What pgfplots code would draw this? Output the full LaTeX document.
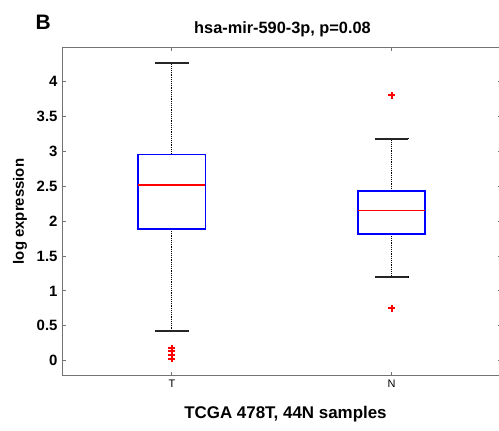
\documentclass[border=0pt]{standalone}
\usepackage{fontspec}
\setmainfont{Liberation Sans}
\usepackage{pgfplots}
\pgfplotsset{compat=1.18}
\usepgfplotslibrary{statistics}

\begin{document}
\begin{tikzpicture}
\begin{axis}[
  at={(0,0)}, anchor=south west,
  scale only axis, width=439.5bp, height=328.4bp,
  xmin=0.5, xmax=2.5, ymin=-0.215, ymax=4.49,
  boxplot/draw direction=y,
  xtick={1,2}, xticklabels={T,N},
  ytick={0,0.5,1,1.5,2,2.5,3,3.5,4},
  yticklabels={0,0.5,1,1.5,2,2.5,3,3.5,4},
  tick align=inside, major tick length=4bp,
  axis line style={black!55, line width=1pt},
  tick style={black!55, line width=0.8pt},
  yticklabel style={font=\fontsize{15}{18}\selectfont\bfseries, xshift=-1bp},
  xticklabel style={font=\fontsize{11}{13}\selectfont, yshift=-1bp},
  clip=false,
]
% T
\addplot[blue, line width=1.7pt,
  boxplot prepared={draw position=1, lower whisker=0.42, lower quartile=1.89,
    median=2.515, upper quartile=2.955, upper whisker=4.27,
    box extend=0.306, whisker extend=0.153,
    every whisker/.style={black, densely dotted, line width=1.2pt},
    every median/.style={red, solid, line width=1.6pt}}]
  coordinates {};
% N
\addplot[blue, line width=1.7pt,
  boxplot prepared={draw position=2, lower whisker=1.20, lower quartile=1.82,
    median=2.15, upper quartile=2.43, upper whisker=3.18,
    box extend=0.306, whisker extend=0.153,
    every whisker/.style={black, densely dotted, line width=1.2pt},
    every median/.style={red, solid, line width=1.6pt}}]
  coordinates {};
% solid whisker caps
\addplot[black!85, line width=1.9pt] coordinates {(0.9235,4.27) (1.0765,4.27)};
\addplot[black!85, line width=1.9pt] coordinates {(0.9235,0.42) (1.0765,0.42)};
\addplot[black!85, line width=1.9pt] coordinates {(1.9235,3.18) (2.0765,3.18)};
\addplot[black!85, line width=1.9pt] coordinates {(1.9235,1.20) (2.0765,1.20)};
% outliers
\addplot[only marks, red, mark=+, mark size=3.5bp, mark options={red, line width=2pt}]
  coordinates {(1,0.18) (1,0.14) (1,0.08) (1,0.03) (2,3.80) (2,0.75)};
\end{axis}
\node[font=\fontsize{21}{24}\selectfont\bfseries, anchor=base] at (-18.7bp,345.7bp) {B};
\node[font=\fontsize{16.4}{19}\selectfont\bfseries, anchor=base] at (220.5bp,342.4bp) {hsa-mir-590-3p, p=0.08};
\node[font=\fontsize{17}{20}\selectfont\bfseries, anchor=base] at (223.5bp,-42.6bp) {TCGA 478T, 44N samples};
\node[font=\fontsize{15}{18}\selectfont\bfseries, rotate=90] at (-42bp,164.2bp) {log expression};
\pgfresetboundingbox
\useasboundingbox (-62bp,-55.3bp) rectangle (437bp,375.7bp);
\end{tikzpicture}
\end{document}
